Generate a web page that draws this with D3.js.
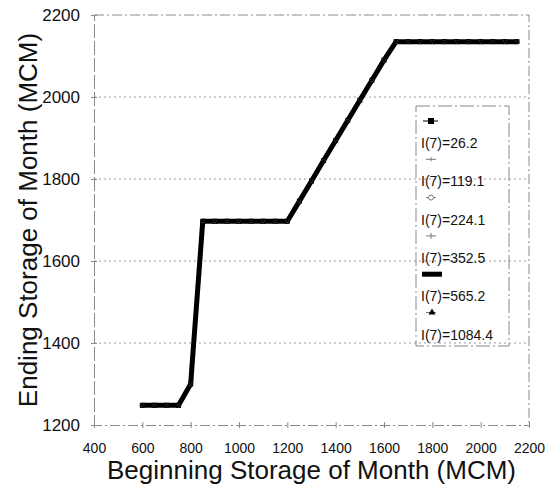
<!DOCTYPE html>
<html>
<head>
<meta charset="utf-8">
<script src="https://cdn.jsdelivr.net/npm/d3@7"></script>
<style>
body { margin: 0; background: #fff; }
svg { display: block; font-family: "Liberation Sans", Arial, sans-serif; }
</style>
</head>
<body>
<script>
// beginning storage of month (MCM)
const storage = [600, 650, 700, 750, 800, 850, 900, 950, 1000, 1050, 1100, 1150,
  1200, 1250, 1300, 1350, 1400, 1450, 1500, 1550, 1600, 1650, 1700, 1750,
  1800, 1850, 1900, 1950, 2000, 2050, 2100, 2150];

// ending storage (all six curves lie on top of each other)
const endS1 = [1248, 1248, 1248, 1248, 1300, 1697, 1697, 1697, 1697, 1697, 1697, 1697,
  1697, 1746, 1795, 1845, 1894, 1943, 1992, 2041, 2090, 2135, 2135, 2135,
  2135, 2135, 2135, 2135, 2135, 2135, 2135, 2135];
const endS2 = endS1.slice();
const endS3 = endS1.slice();
const endS4 = endS1.slice();
const endS5 = endS1.slice();
const endS6 = endS1.slice();

const seriesNames = ["I(7)=26.2", "I(7)=119.1", "I(7)=224.1", "I(7)=352.5", "I(7)=565.2", "I(7)=1084.4"];
const seriesValues = [endS1, endS2, endS3, endS4, endS5, endS6];

const xTicks = [400, 600, 800, 1000, 1200, 1400, 1600, 1800, 2000, 2200];
const yTicks = [1200, 1400, 1600, 1800, 2000, 2200];

const W = 546, H = 494;
const margin = { top: 15, right: 17, bottom: 69, left: 94 };
const iw = W - margin.left - margin.right;
const ih = H - margin.top - margin.bottom;

const x = d3.scaleLinear().domain([400, 2200]).range([0, iw]);
const y = d3.scaleLinear().domain([1200, 2200]).range([ih, 0]);

const svg = d3.select("body").append("svg").attr("width", W).attr("height", H);
const g = svg.append("g").attr("transform", "translate(" + margin.left + "," + margin.top + ")");

// gridlines
g.append("g")
  .selectAll("line")
  .data(yTicks.filter(d => d > 1200 && d < 2200))
  .enter()
  .append("line")
  .attr("x1", 0).attr("x2", iw)
  .attr("y1", d => y(d)).attr("y2", d => y(d))
  .attr("stroke", "#9a9a9a")
  .attr("stroke-width", 1)
  .attr("stroke-dasharray", "2,3");

// frame top / right
g.append("path")
  .attr("d", "M0,0H" + iw + "V" + ih)
  .attr("fill", "none")
  .attr("stroke", "#8a8a8a")
  .attr("stroke-dasharray", "10,3,2,3");

// x axis
const xAxis = g.append("g")
  .attr("transform", "translate(0," + ih + ")")
  .call(d3.axisBottom(x).tickValues(xTicks).tickSize(3).tickFormat(d3.format("d")));
xAxis.select(".domain").attr("stroke", "#8a8a8a").attr("stroke-dasharray", "10,3,2,3");
xAxis.selectAll(".tick line").attr("y1", -3).attr("stroke", "#8a8a8a");
xAxis.selectAll(".tick text")
  .attr("y", 18)
  .attr("font-size", 14)
  .attr("fill", "#111")
  .attr("font-family", "Liberation Sans, Arial, sans-serif");

// y axis
const yAxis = g.append("g")
  .call(d3.axisLeft(y).tickValues(yTicks).tickSize(3).tickFormat(d3.format("d")));
yAxis.select(".domain").attr("stroke", "#8a8a8a").attr("stroke-dasharray", "14,3");
yAxis.selectAll(".tick line").attr("x1", 3).attr("x2", -3).attr("stroke", "#8a8a8a");
yAxis.selectAll(".tick text")
  .attr("x", -14)
  .attr("font-size", 17)
  .attr("fill", "#111")
  .attr("font-family", "Liberation Sans, Arial, sans-serif");

// axis titles
svg.append("text")
  .attr("x", margin.left + iw / 2)
  .attr("y", 479)
  .attr("text-anchor", "middle")
  .attr("font-size", 26)
  .attr("fill", "#111")
  .text("Beginning Storage of Month (MCM)");

svg.append("text")
  .attr("transform", "translate(37," + (margin.top + ih / 2) + ") rotate(-90)")
  .attr("text-anchor", "middle")
  .attr("font-size", 26)
  .attr("fill", "#111")
  .text("Ending Storage of Month (MCM)");

// series
const line = d3.line().x(d => x(d[0])).y(d => y(d[1]));
const pairs = seriesValues.map(vals => storage.map((s, i) => [s, vals[i]]));

// thick curve (series 5)
g.append("path")
  .datum(pairs[4])
  .attr("fill", "none")
  .attr("stroke", "#000")
  .attr("stroke-width", 5)
  .attr("stroke-linejoin", "round")
  .attr("stroke-linecap", "round")
  .attr("d", line);

// thin curves with markers
[0, 1, 2, 3, 5].forEach(k => {
  g.append("path")
    .datum(pairs[k])
    .attr("fill", "none")
    .attr("stroke", "#000")
    .attr("stroke-width", 1)
    .attr("d", line);
});

const mk = g.append("g");
mk.selectAll(".sq")
  .data(pairs[0])
  .enter()
  .append("rect")
  .attr("x", d => x(d[0]) - 2.5)
  .attr("y", d => y(d[1]) - 2.5)
  .attr("width", 5).attr("height", 5)
  .attr("fill", "#000");
mk.selectAll(".ci")
  .data(pairs[2])
  .enter()
  .append("circle")
  .attr("cx", d => x(d[0]))
  .attr("cy", d => y(d[1]))
  .attr("r", 1.5)
  .attr("fill", "#fff")
  .attr("stroke", "#444")
  .attr("stroke-width", 0.6);
mk.selectAll(".tri")
  .data(pairs[5])
  .enter()
  .append("path")
  .attr("transform", d => "translate(" + x(d[0]) + "," + y(d[1]) + ")")
  .attr("d", d3.symbol(d3.symbolTriangle, 10))
  .attr("fill", "#000");

// legend
const lg = svg.append("g").attr("transform", "translate(416,106)");
lg.append("rect")
  .attr("width", 93).attr("height", 240)
  .attr("fill", "none")
  .attr("stroke", "#8a8a8a")
  .attr("stroke-dasharray", "14,3,2,3");

const rowH = 38.3;
seriesNames.forEach((name, i) => {
  const my = 15 + rowH * i;
  const row = lg.append("g");
  if (i === 4) {
    row.append("line").attr("x1", 6).attr("x2", 26).attr("y1", my).attr("y2", my)
      .attr("stroke", "#000").attr("stroke-width", 5);
  } else {
    row.append("line").attr("x1", i === 0 ? 7 : 10).attr("x2", i === 0 ? 22 : 20)
      .attr("y1", my).attr("y2", my)
      .attr("stroke", i === 0 ? "#000" : "#777").attr("stroke-width", 1);
  }
  if (i === 0) {
    row.append("rect").attr("x", 12).attr("y", my - 3).attr("width", 6).attr("height", 6).attr("fill", "#000");
  } else if (i === 1) {
    row.append("line").attr("x1", 15).attr("x2", 15).attr("y1", my - 2).attr("y2", my + 2)
      .attr("stroke", "#777").attr("stroke-width", 1);
  } else if (i === 2) {
    row.append("circle").attr("cx", 15).attr("cy", my).attr("r", 2.5)
      .attr("fill", "#fff").attr("stroke", "#777").attr("stroke-width", 1);
  } else if (i === 3) {
    row.append("line").attr("x1", 15).attr("x2", 15).attr("y1", my - 3).attr("y2", my + 3)
      .attr("stroke", "#777").attr("stroke-width", 1);
  } else if (i === 5) {
    row.append("path").attr("transform", "translate(16," + my + ")")
      .attr("d", d3.symbol(d3.symbolTriangle, 22)).attr("fill", "#000");
  }
  row.append("text")
    .attr("x", 5)
    .attr("y", 42 + rowH * i)
    .attr("font-size", 14)
    .attr("fill", "#111")
    .text(name);
});
</script>
</body>
</html>
